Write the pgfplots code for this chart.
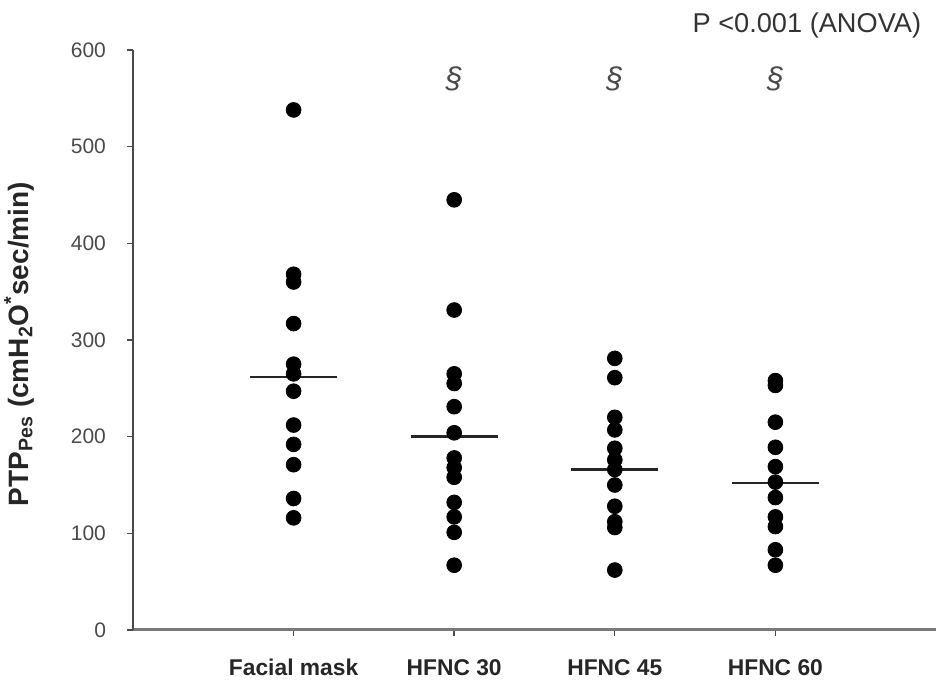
\documentclass[border=0pt]{standalone}
\usepackage{pgfplots}
\pgfplotsset{compat=1.18}
\usepackage{fontspec}
\setmainfont{Liberation Sans}
\definecolor{tickgray}{HTML}{4A4A4A}
\definecolor{axisgray}{HTML}{7A7A7A}

\begin{document}
\begin{tikzpicture}
\begin{axis}[
    scale only axis,
    width=401.5pt, height=290pt,
    xmin=0, xmax=5, ymin=0, ymax=600,
    axis x line*=bottom, axis y line*=left,
    x axis line style={axisgray, line width=1.5pt},
    y axis line style={tickgray, line width=0.8pt},
    xtick={1,2,3,4},
    xticklabels={Facial mask, HFNC 30, HFNC 45, HFNC 60},
    ytick={0,100,...,600},
    tick align=outside,
    major tick length=3pt,
    tick style={tickgray, line width=0.7pt},
    /pgf/number format/assume math mode=true,
    yticklabel style={font=\fontsize{10.5}{12}\selectfont, text=tickgray, xshift=-7pt},
    xticklabel style={font=\bfseries\fontsize{11.4}{14}\selectfont, text=black!85,
      text height=8.8pt, text depth=2pt, yshift=-7.5pt},
    ylabel={\bfseries PTP\textsubscript{Pes} (cmH\textsubscript{2}O\textsuperscript{*}sec/min)},
    ylabel style={font=\fontsize{14}{16}\selectfont, text=black!85, at={(axis description cs:-0.142,0.493)}, anchor=center},
    clip=false,
]
\coordinate (sw) at (rel axis cs:0,0);

% individual patients
\addplot[only marks, mark=*, mark size=3.7pt, black] coordinates {
  (1,538) (1,368) (1,360) (1,317) (1,275) (1,265) (1,247) (1,212) (1,192) (1,171) (1,136) (1,116)
};
\addplot[only marks, mark=*, mark size=3.7pt, black] coordinates {
  (2,445) (2,331) (2,265) (2,255) (2,231) (2,204) (2,178) (2,168) (2,158) (2,132) (2,117) (2,101) (2,67)
};
\addplot[only marks, mark=*, mark size=3.7pt, black] coordinates {
  (3,281) (3,261) (3,220) (3,207) (3,188) (3,176) (3,166) (3,150) (3,128) (3,112) (3,106) (3,62)
};
\addplot[only marks, mark=*, mark size=3.7pt, black] coordinates {
  (4,258) (4,253) (4,215) (4,189) (4,169) (4,153) (4,137) (4,117) (4,107) (4,83) (4,67)
};

% means
\addplot[black!85, line width=1.2pt] coordinates {(0.73,262) (1.27,262)};
\addplot[black!85, line width=1.2pt] coordinates {(1.73,200) (2.27,200)};
\addplot[black!85, line width=1.2pt] coordinates {(2.73,166) (3.27,166)};
\addplot[black!85, line width=1.2pt] coordinates {(3.73,152) (4.27,152)};

\node[text=tickgray, font=\itshape\fontsize{15}{17}\selectfont] at (axis cs:2,570) {§};
\node[text=tickgray, font=\itshape\fontsize{15}{17}\selectfont] at (axis cs:3,570) {§};
\node[text=tickgray, font=\itshape\fontsize{15}{17}\selectfont] at (axis cs:4,570) {§};
\node[anchor=east, text=black!80, font=\fontsize{13.6}{16}\selectfont, inner sep=0pt] at (axis cs:4.91,625) {P <0.001 (ANOVA)};
\end{axis}
\pgfresetboundingbox
\path[use as bounding box] (sw) ++(-66.5pt,-29pt) rectangle ++(469pt,344pt);
\end{tikzpicture}
\end{document}
